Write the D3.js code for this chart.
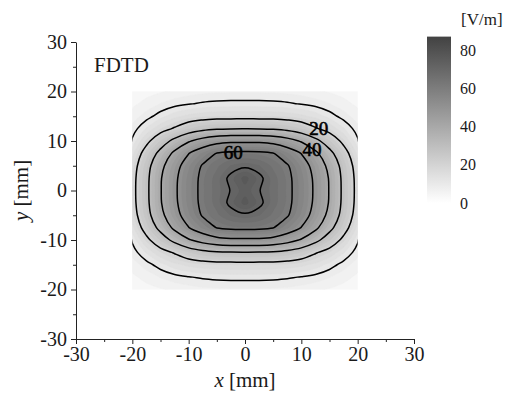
<!DOCTYPE html>
<html>
<head>
<meta charset="utf-8">
<script src="https://cdn.jsdelivr.net/npm/d3@7/dist/d3.min.js"></script>
<style>
  body { margin: 0; background: #fff; }
  text { font-family: "Liberation Serif", "DejaVu Serif", serif; fill: #1a1a1a; }
</style>
</head>
<body>
<svg id="chart" width="511" height="398"></svg>
<script>
// grid positions [mm]
const xGrid = [-20, -17.5, -15, -12.5, -10, -7.5, -5, -2.5, 0, 2.5, 5, 7.5, 10, 12.5, 15, 17.5, 20];
const yGrid = [20, 17.5, 15, 12.5, 10, 7.5, 5, 2.5, 0, -2.5, -5, -7.5, -10, -12.5, -15, -17.5, -20];

// |E| [V/m], one row per yGrid value, columns follow xGrid
const fieldRows = [
  [3.2, 4.0, 4.7, 5.6, 6.3, 6.8, 7.0, 7.1, 7.1, 7.1, 7.0, 6.8, 6.3, 5.6, 4.7, 4.0, 3.2],
  [4.4, 5.9, 7.6, 8.9, 9.8, 10.5, 10.9, 11.1, 11.1, 11.1, 10.9, 10.5, 9.8, 8.9, 7.6, 5.9, 4.4],
  [6.1, 8.7, 11.5, 14.1, 15.8, 16.8, 17.3, 17.4, 17.5, 17.4, 17.3, 16.8, 15.8, 14.1, 11.5, 8.7, 6.1],
  [8.4, 12.8, 17.3, 20.7, 24.8, 27.5, 29.0, 29.6, 29.7, 29.6, 29.0, 27.5, 24.8, 20.7, 17.3, 12.8, 8.4],
  [10.6, 18.1, 25.3, 32.5, 39.1, 43.8, 46.9, 48.3, 48.5, 48.3, 46.9, 43.8, 39.1, 32.5, 25.3, 18.1, 10.6],
  [14.0, 23.4, 32.7, 42.1, 49.8, 55.6, 60.3, 61.7, 61.9, 61.7, 60.3, 55.6, 49.8, 42.1, 32.7, 23.4, 14.0],
  [16.3, 26.6, 37.4, 46.7, 54.3, 60.7, 64.3, 67.6, 68.9, 67.6, 64.3, 60.7, 54.3, 46.7, 37.4, 26.6, 16.3],
  [17.3, 27.8, 39.3, 48.3, 55.9, 61.9, 66.2, 71.5, 76.0, 71.5, 66.2, 61.9, 55.9, 48.3, 39.3, 27.8, 17.3],
  [17.5, 28.0, 39.5, 48.6, 56.2, 62.0, 66.3, 70.3, 74.0, 70.3, 66.3, 62.0, 56.2, 48.6, 39.5, 28.0, 17.5],
  [17.3, 27.8, 39.3, 48.3, 55.9, 61.9, 66.2, 71.5, 76.0, 71.5, 66.2, 61.9, 55.9, 48.3, 39.3, 27.8, 17.3],
  [16.3, 26.6, 37.4, 46.7, 54.3, 60.7, 64.3, 67.6, 68.9, 67.6, 64.3, 60.7, 54.3, 46.7, 37.4, 26.6, 16.3],
  [14.0, 23.4, 32.7, 42.1, 49.8, 55.6, 60.3, 61.7, 61.9, 61.7, 60.3, 55.6, 49.8, 42.1, 32.7, 23.4, 14.0],
  [10.6, 18.1, 25.3, 32.5, 39.1, 43.8, 46.9, 48.3, 48.5, 48.3, 46.9, 43.8, 39.1, 32.5, 25.3, 18.1, 10.6],
  [8.4, 12.8, 17.3, 20.7, 24.8, 27.5, 29.0, 29.6, 29.7, 29.6, 29.0, 27.5, 24.8, 20.7, 17.3, 12.8, 8.4],
  [6.1, 8.7, 11.5, 14.1, 15.8, 16.8, 17.3, 17.4, 17.5, 17.4, 17.3, 16.8, 15.8, 14.1, 11.5, 8.7, 6.1],
  [4.4, 5.9, 7.6, 8.9, 9.8, 10.5, 10.9, 11.1, 11.1, 11.1, 10.9, 10.5, 9.8, 8.9, 7.6, 5.9, 4.4],
  [3.2, 4.0, 4.7, 5.6, 6.3, 6.8, 7.0, 7.1, 7.1, 7.1, 7.0, 6.8, 6.3, 5.6, 4.7, 4.0, 3.2]
];

const contourLevels = [10, 20, 30, 40, 50, 60, 70];
const contourLabels = [
  { level: 20, x: 13.1, y: 12.6 },
  { level: 40, x: 11.9, y: 8.3 },
  { level: 60, x: -2.1, y: 7.7 }
];
const xTicks = [-30, -20, -10, 0, 10, 20, 30];
const yTicks = [-30, -20, -10, 0, 10, 20, 30];
const minorTicks = [-25, -15, -5, 5, 15, 25];
const colorTicks = [0, 20, 40, 60, 80];
const colorMax = 87;
const FILL_STEP = 2.5;

const svg = d3.select('#chart');

const x = d3.scaleLinear().domain([-30, 30]).range([76, 414]);
const y = d3.scaleLinear().domain([-30, 30]).range([339, 42]);
const color = d3.scaleLinear().domain([0, colorMax]).range(['#ffffff', '#424242']);

// padded grid so the cut contour lines close outside the clip box
const nx = xGrid.length, ny = yGrid.length;
const pw = nx + 2, ph = ny + 2;
const values = new Array(pw * ph).fill(0);
fieldRows.forEach((row, j) => row.forEach((v, i) => { values[(j + 1) * pw + i + 1] = v; }));

// contour coords -> pixels (value k sits at k + 0.5, shifted by the pad)
const gx = d3.scaleLinear().domain([1.5, nx + 0.5]).range([x(xGrid[0]), x(xGrid[nx - 1])]);
const gy = d3.scaleLinear().domain([1.5, ny + 0.5]).range([y(yGrid[0]), y(yGrid[ny - 1])]);

const contours = d3.contours().size([pw, ph]);
const ringLine = d3.line().curve(d3.curveCatmullRomClosed.alpha(0.5));

function pathFor(geom) {
  let d = '';
  geom.coordinates.forEach(poly => {
    poly.forEach(ring => {
      const pts = ring.slice(0, -1).map(p => [gx(p[0]), gy(p[1])]);
      if (pts.length > 2) d += ringLine(pts);
    });
  });
  return d;
}

svg.append('clipPath').attr('id', 'mapClip')
  .append('rect')
  .attr('x', x(xGrid[0])).attr('y', y(yGrid[0]))
  .attr('width', x(xGrid[nx - 1]) - x(xGrid[0]))
  .attr('height', y(yGrid[ny - 1]) - y(yGrid[0]));

const map = svg.append('g').attr('clip-path', 'url(#mapClip)');

// filled bands
const fillLevels = d3.range(0, colorMax, FILL_STEP);
map.selectAll('path.band')
  .data(contours.thresholds(fillLevels)(values))
  .join('path')
  .attr('class', 'band')
  .attr('d', pathFor)
  .attr('fill', d => color(d.value + FILL_STEP / 2))
  .attr('fill-rule', 'evenodd')
  .attr('stroke', d => color(d.value + FILL_STEP / 2))
  .attr('stroke-width', 0.5);

// contour lines
map.selectAll('path.iso')
  .data(contours.thresholds(contourLevels)(values))
  .join('path')
  .attr('class', 'iso')
  .attr('d', pathFor)
  .attr('fill', 'none')
  .attr('stroke', '#000')
  .attr('stroke-width', 1.5);

svg.selectAll('text.clabel')
  .data(contourLabels)
  .join('text')
  .attr('class', 'clabel')
  .attr('x', d => x(d.x))
  .attr('y', d => y(d.y))
  .attr('dy', '0.35em')
  .attr('text-anchor', 'middle')
  .attr('font-size', 19)
  .style('fill', '#000')
  .attr('stroke', '#000')
  .attr('stroke-width', 0.6)
  .text(d => d.level);

// axes
const axisFont = 20;
svg.append('g').attr('transform', `translate(0,${y(-30)})`)
  .call(d3.axisBottom(x).tickValues(xTicks).tickSize(5).tickSizeOuter(0).tickPadding(3).tickFormat(d3.format('d')));
svg.append('g').attr('transform', `translate(0,${y(-30)})`)
  .call(d3.axisBottom(x).tickValues(minorTicks).tickSize(3).tickSizeOuter(0).tickFormat(''))
  .select('.domain').remove();
svg.append('g').attr('transform', `translate(${x(-30)},0)`)
  .call(d3.axisLeft(y).tickValues(yTicks).tickSize(5).tickSizeOuter(0).tickPadding(4).tickFormat(d3.format('d')));
svg.append('g').attr('transform', `translate(${x(-30)},0)`)
  .call(d3.axisLeft(y).tickValues(minorTicks).tickSize(3).tickSizeOuter(0).tickFormat(''))
  .select('.domain').remove();

svg.selectAll('.tick text')
  .attr('font-size', axisFont)
  .attr('font-family', '"Liberation Serif", serif')
  .text(function () { return this.textContent.replace('−', '-'); });
svg.selectAll('.domain, .tick line').attr('stroke', '#222');

// axis titles
const xt = svg.append('text').attr('x', x(0)).attr('y', 387)
  .attr('text-anchor', 'middle').attr('font-size', 21);
xt.append('tspan').attr('font-style', 'italic').text('x');
xt.append('tspan').text(' [mm]');

const yt = svg.append('text')
  .attr('transform', `translate(28,${y(0)}) rotate(-90)`)
  .attr('text-anchor', 'middle').attr('font-size', 21);
yt.append('tspan').attr('font-style', 'italic').text('y');
yt.append('tspan').text(' [mm]');

svg.append('text').attr('x', 94).attr('y', 72).attr('font-size', 21).text('FDTD');

// colour bar
const cb = d3.scaleLinear().domain([0, 80]).range([203, 50]);
const grad = svg.append('defs').append('linearGradient')
  .attr('id', 'cbGrad').attr('x1', 0).attr('y1', 1).attr('x2', 0).attr('y2', 0);
grad.selectAll('stop')
  .data([0, colorMax])
  .join('stop')
  .attr('offset', (d, i) => i)
  .attr('stop-color', d => color(d));

svg.append('rect')
  .attr('x', 427).attr('width', 24)
  .attr('y', cb(colorMax)).attr('height', cb(0) - cb(colorMax))
  .attr('fill', 'url(#cbGrad)');

svg.selectAll('text.cbl')
  .data(colorTicks)
  .join('text')
  .attr('class', 'cbl')
  .attr('x', 460)
  .attr('y', d => cb(d))
  .attr('dy', '0.35em')
  .attr('font-size', 16)
  .text(d => d);

svg.append('text').attr('x', 461).attr('y', 25).attr('font-size', 17).text('[V/m]');
</script>
</body>
</html>
